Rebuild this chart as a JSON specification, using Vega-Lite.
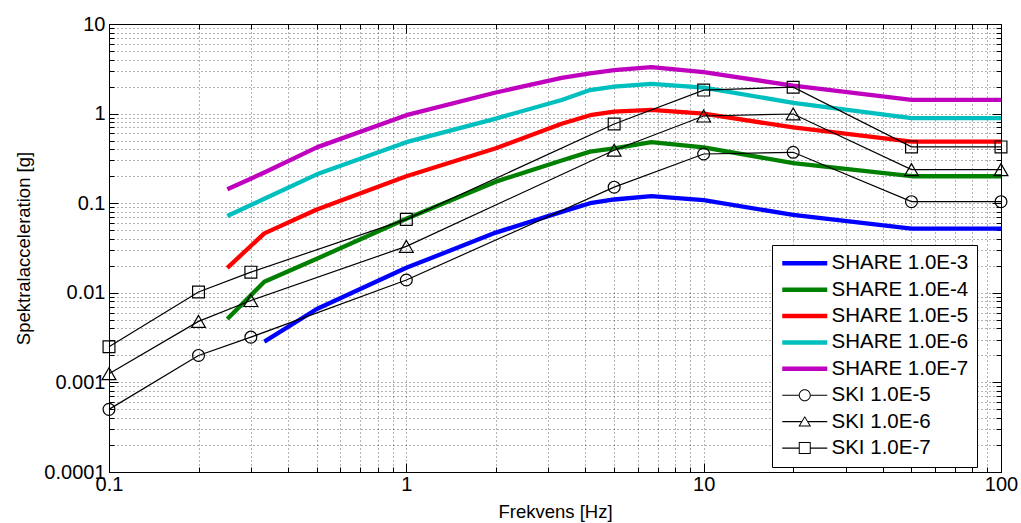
{
  "$schema": "https://vega.github.io/schema/vega-lite/v6.json",
  "width": 892,
  "height": 448,
  "autosize": "none",
  "padding": {"left": 109, "top": 24, "right": 20, "bottom": 51},
  "background": "white",
  "config": {
    "font": "Liberation Sans",
    "view": {"stroke": "black", "strokeWidth": 1},
    "axis": {
      "labelFont": "Liberation Sans",
      "labelFontSize": 20,
      "labelColor": "black",
      "tickColor": "black",
      "tickWidth": 1,
      "titleFont": "Liberation Sans",
      "titleFontSize": 18.5,
      "titleFontWeight": "normal",
      "titleColor": "black",
      "domain": false,
      "labelOverlap": false,
      "labelFlush": false,
      "labelBound": false,
      "gridColor": "black",
      "gridDash": [1, 3],
      "gridOpacity": 0.6,
      "gridWidth": 1
    }
  },
  "data": {
    "values": [
      {"s": "SHARE 1.0E-3", "f": 0.333, "a": 0.00285},
      {"s": "SHARE 1.0E-3", "f": 0.5, "a": 0.0066},
      {"s": "SHARE 1.0E-3", "f": 1, "a": 0.019},
      {"s": "SHARE 1.0E-3", "f": 2, "a": 0.047},
      {"s": "SHARE 1.0E-3", "f": 3.33, "a": 0.08},
      {"s": "SHARE 1.0E-3", "f": 4.15, "a": 0.1},
      {"s": "SHARE 1.0E-3", "f": 5, "a": 0.11},
      {"s": "SHARE 1.0E-3", "f": 6.67, "a": 0.12},
      {"s": "SHARE 1.0E-3", "f": 10, "a": 0.108},
      {"s": "SHARE 1.0E-3", "f": 20, "a": 0.074},
      {"s": "SHARE 1.0E-3", "f": 50, "a": 0.052},
      {"s": "SHARE 1.0E-3", "f": 100, "a": 0.052},

      {"s": "SHARE 1.0E-4", "f": 0.25, "a": 0.0051},
      {"s": "SHARE 1.0E-4", "f": 0.333, "a": 0.0133},
      {"s": "SHARE 1.0E-4", "f": 0.5, "a": 0.024},
      {"s": "SHARE 1.0E-4", "f": 1, "a": 0.067},
      {"s": "SHARE 1.0E-4", "f": 2, "a": 0.174},
      {"s": "SHARE 1.0E-4", "f": 3.33, "a": 0.3},
      {"s": "SHARE 1.0E-4", "f": 4.15, "a": 0.376},
      {"s": "SHARE 1.0E-4", "f": 5, "a": 0.41},
      {"s": "SHARE 1.0E-4", "f": 6.67, "a": 0.48},
      {"s": "SHARE 1.0E-4", "f": 10, "a": 0.42},
      {"s": "SHARE 1.0E-4", "f": 20, "a": 0.28},
      {"s": "SHARE 1.0E-4", "f": 50, "a": 0.2},
      {"s": "SHARE 1.0E-4", "f": 100, "a": 0.2},

      {"s": "SHARE 1.0E-5", "f": 0.25, "a": 0.019},
      {"s": "SHARE 1.0E-5", "f": 0.333, "a": 0.046},
      {"s": "SHARE 1.0E-5", "f": 0.5, "a": 0.085},
      {"s": "SHARE 1.0E-5", "f": 1, "a": 0.2},
      {"s": "SHARE 1.0E-5", "f": 2, "a": 0.41},
      {"s": "SHARE 1.0E-5", "f": 3.33, "a": 0.77},
      {"s": "SHARE 1.0E-5", "f": 4.15, "a": 0.96},
      {"s": "SHARE 1.0E-5", "f": 5, "a": 1.05},
      {"s": "SHARE 1.0E-5", "f": 6.67, "a": 1.1},
      {"s": "SHARE 1.0E-5", "f": 10, "a": 1.0},
      {"s": "SHARE 1.0E-5", "f": 20, "a": 0.7},
      {"s": "SHARE 1.0E-5", "f": 50, "a": 0.486},
      {"s": "SHARE 1.0E-5", "f": 100, "a": 0.486},

      {"s": "SHARE 1.0E-6", "f": 0.25, "a": 0.072},
      {"s": "SHARE 1.0E-6", "f": 0.333, "a": 0.112},
      {"s": "SHARE 1.0E-6", "f": 0.5, "a": 0.21},
      {"s": "SHARE 1.0E-6", "f": 1, "a": 0.48},
      {"s": "SHARE 1.0E-6", "f": 2, "a": 0.88},
      {"s": "SHARE 1.0E-6", "f": 3.33, "a": 1.42},
      {"s": "SHARE 1.0E-6", "f": 4.15, "a": 1.83},
      {"s": "SHARE 1.0E-6", "f": 5, "a": 2.0},
      {"s": "SHARE 1.0E-6", "f": 6.67, "a": 2.15},
      {"s": "SHARE 1.0E-6", "f": 10, "a": 1.95},
      {"s": "SHARE 1.0E-6", "f": 20, "a": 1.32},
      {"s": "SHARE 1.0E-6", "f": 50, "a": 0.89},
      {"s": "SHARE 1.0E-6", "f": 100, "a": 0.89},

      {"s": "SHARE 1.0E-7", "f": 0.25, "a": 0.143},
      {"s": "SHARE 1.0E-7", "f": 0.333, "a": 0.22},
      {"s": "SHARE 1.0E-7", "f": 0.5, "a": 0.42},
      {"s": "SHARE 1.0E-7", "f": 1, "a": 0.96},
      {"s": "SHARE 1.0E-7", "f": 2, "a": 1.72},
      {"s": "SHARE 1.0E-7", "f": 3.33, "a": 2.5},
      {"s": "SHARE 1.0E-7", "f": 4.15, "a": 2.82},
      {"s": "SHARE 1.0E-7", "f": 5, "a": 3.05},
      {"s": "SHARE 1.0E-7", "f": 6.67, "a": 3.3},
      {"s": "SHARE 1.0E-7", "f": 10, "a": 2.9},
      {"s": "SHARE 1.0E-7", "f": 20, "a": 2.05},
      {"s": "SHARE 1.0E-7", "f": 50, "a": 1.42},
      {"s": "SHARE 1.0E-7", "f": 100, "a": 1.42},

      {"s": "SKI 1.0E-5", "f": 0.1, "a": 0.0005},
      {"s": "SKI 1.0E-5", "f": 0.2, "a": 0.002},
      {"s": "SKI 1.0E-5", "f": 0.3, "a": 0.0032},
      {"s": "SKI 1.0E-5", "f": 1, "a": 0.0139},
      {"s": "SKI 1.0E-5", "f": 5, "a": 0.151},
      {"s": "SKI 1.0E-5", "f": 10, "a": 0.354},
      {"s": "SKI 1.0E-5", "f": 20, "a": 0.37},
      {"s": "SKI 1.0E-5", "f": 50, "a": 0.104},
      {"s": "SKI 1.0E-5", "f": 100, "a": 0.104},

      {"s": "SKI 1.0E-6", "f": 0.1, "a": 0.00125},
      {"s": "SKI 1.0E-6", "f": 0.2, "a": 0.0048},
      {"s": "SKI 1.0E-6", "f": 0.3, "a": 0.0082},
      {"s": "SKI 1.0E-6", "f": 1, "a": 0.033},
      {"s": "SKI 1.0E-6", "f": 5, "a": 0.39},
      {"s": "SKI 1.0E-6", "f": 10, "a": 0.94},
      {"s": "SKI 1.0E-6", "f": 20, "a": 0.99},
      {"s": "SKI 1.0E-6", "f": 50, "a": 0.237},
      {"s": "SKI 1.0E-6", "f": 100, "a": 0.237},

      {"s": "SKI 1.0E-7", "f": 0.1, "a": 0.0025},
      {"s": "SKI 1.0E-7", "f": 0.2, "a": 0.0102},
      {"s": "SKI 1.0E-7", "f": 0.3, "a": 0.017},
      {"s": "SKI 1.0E-7", "f": 1, "a": 0.066},
      {"s": "SKI 1.0E-7", "f": 5, "a": 0.765},
      {"s": "SKI 1.0E-7", "f": 10, "a": 1.83},
      {"s": "SKI 1.0E-7", "f": 20, "a": 1.97},
      {"s": "SKI 1.0E-7", "f": 50, "a": 0.425},
      {"s": "SKI 1.0E-7", "f": 100, "a": 0.425}
    ]
  },
  "resolve": {"axis": {"x": "independent", "y": "independent"}},
  "layer": [
    {
      "transform": [{"filter": "indexof(datum.s, 'SHARE') == 0"}],
      "mark": {"type": "line", "strokeWidth": 4.3, "strokeJoin": "round", "strokeCap": "butt"},
      "encoding": {
        "x": {
          "field": "f", "type": "quantitative",
          "scale": {"type": "log", "domain": [0.1, 100], "nice": false},
          "axis": {
            "orient": "bottom",
            "values": [0.1,0.2,0.3,0.4,0.5,0.6,0.7,0.8,0.9,1,2,3,4,5,6,7,8,9,10,20,30,40,50,60,70,80,90,100],
            "grid": true, "ticks": true, "tickSize": -5, "labelPadding": 7,
            "format": "~g",
            "labelExpr": "(datum.value == 0.1 || datum.value == 1 || datum.value == 10 || datum.value == 100) ? datum.label : ''",
            "title": "Frekvens [Hz]", "titlePadding": 8
          }
        },
        "y": {
          "field": "a", "type": "quantitative",
          "scale": {"type": "log", "domain": [0.0001, 10], "nice": false},
          "axis": {
            "orient": "left",
            "values": [0.0001,0.0002,0.0003,0.0004,0.0005,0.0006,0.0007,0.0008,0.0009,0.001,0.002,0.003,0.004,0.005,0.006,0.007,0.008,0.009,0.01,0.02,0.03,0.04,0.05,0.06,0.07,0.08,0.09,0.1,0.2,0.3,0.4,0.5,0.6,0.7,0.8,0.9,1,2,3,4,5,6,7,8,9,10],
            "grid": true, "ticks": true, "tickSize": -5, "labelPadding": 9,
            "format": "~g",
            "labelExpr": "(datum.value == 0.0001 || datum.value == 0.001 || datum.value == 0.01 || datum.value == 0.1 || datum.value == 1 || datum.value == 10) ? datum.label : ''",
            "title": "Spektralacceleration [g]", "titlePadding": 10
          }
        },
        "stroke": {
          "field": "s", "type": "nominal",
          "scale": {
            "domain": ["SHARE 1.0E-3","SHARE 1.0E-4","SHARE 1.0E-5","SHARE 1.0E-6","SHARE 1.0E-7"],
            "range": ["#0000ff","#008000","#ff0000","#00bfbf","#bf00bf"]
          },
          "legend": null
        }
      }
    },
    {
      "transform": [{"filter": "indexof(datum.s, 'SKI') == 0"}],
      "mark": {"type": "line", "strokeWidth": 1.2, "color": "black"},
      "encoding": {
        "x": {"field": "f", "type": "quantitative",
          "axis": {"orient": "bottom", "values": [0.1, 1, 10, 100], "grid": false, "tickSize": -9, "labels": false, "title": null}},
        "y": {"field": "a", "type": "quantitative",
          "axis": {"orient": "left", "values": [0.0001, 0.001, 0.01, 0.1, 1, 10], "grid": false, "tickSize": -9, "labels": false, "title": null}},
        "detail": {"field": "s", "type": "nominal"}
      }
    },
    {
      "transform": [{"filter": "datum.s == 'SKI 1.0E-5'"}],
      "mark": {"type": "point", "shape": "circle", "filled": false, "stroke": "black", "strokeWidth": 1.2, "size": 140, "opacity": 1},
      "encoding": {
        "x": {"field": "f", "type": "quantitative",
          "axis": {"orient": "top", "values": [0.1,0.2,0.3,0.4,0.5,0.6,0.7,0.8,0.9,1,2,3,4,5,6,7,8,9,10,20,30,40,50,60,70,80,90,100], "grid": false, "tickSize": -5, "labels": false, "title": null}},
        "y": {"field": "a", "type": "quantitative",
          "axis": {"orient": "right", "values": [0.0001,0.0002,0.0003,0.0004,0.0005,0.0006,0.0007,0.0008,0.0009,0.001,0.002,0.003,0.004,0.005,0.006,0.007,0.008,0.009,0.01,0.02,0.03,0.04,0.05,0.06,0.07,0.08,0.09,0.1,0.2,0.3,0.4,0.5,0.6,0.7,0.8,0.9,1,2,3,4,5,6,7,8,9,10], "grid": false, "tickSize": -5, "labels": false, "title": null}}
      }
    },
    {
      "transform": [{"filter": "datum.s == 'SKI 1.0E-6'"}],
      "mark": {"type": "point", "shape": "triangle-up", "filled": false, "stroke": "black", "strokeWidth": 1.2, "size": 190, "opacity": 1},
      "encoding": {
        "x": {"field": "f", "type": "quantitative",
          "axis": {"orient": "top", "values": [0.1, 1, 10, 100], "grid": false, "tickSize": -9, "labels": false, "title": null}},
        "y": {"field": "a", "type": "quantitative",
          "axis": {"orient": "right", "values": [0.0001, 0.001, 0.01, 0.1, 1, 10], "grid": false, "tickSize": -9, "labels": false, "title": null}}
      }
    },
    {
      "transform": [{"filter": "datum.s == 'SKI 1.0E-7'"}],
      "mark": {"type": "point", "shape": "square", "filled": false, "stroke": "black", "strokeWidth": 1.2, "size": 140, "opacity": 1},
      "encoding": {
        "x": {"field": "f", "type": "quantitative", "axis": null},
        "y": {"field": "a", "type": "quantitative", "axis": null}
      }
    },
    {
      "transform": [{"filter": "datum.f < 0"}],
      "mark": {"type": "point", "filled": true, "size": 256, "strokeWidth": 0, "opacity": 1},
      "encoding": {
        "x": {"field": "f", "type": "quantitative", "axis": null},
        "y": {"field": "a", "type": "quantitative", "axis": null},
        "color": {
          "field": "s", "type": "nominal",
          "scale": {
            "domain": ["SHARE 1.0E-3","SHARE 1.0E-4","SHARE 1.0E-5","SHARE 1.0E-6","SHARE 1.0E-7","SKI 1.0E-5","SKI 1.0E-6","SKI 1.0E-7"],
            "range": ["#0000ff","#008000","#ff0000","#00bfbf","#bf00bf","#000000","#000000","#000000"]
          },
          "legend": {
            "title": null, "orient": "none", "legendX": 663, "legendY": 221,
            "fillColor": "white", "strokeColor": "black", "padding": 8, "rowPadding": 5.4,
            "labelFont": "Liberation Sans", "labelFontSize": 20.5, "labelColor": "black", "labelOffset": 31, "labelLimit": 400,
            "symbolSize": 256, "symbolStrokeWidth": 0, "symbolOpacity": 1
          }
        },
        "shape": {
          "field": "s", "type": "nominal",
          "scale": {
            "domain": ["SHARE 1.0E-3","SHARE 1.0E-4","SHARE 1.0E-5","SHARE 1.0E-6","SHARE 1.0E-7","SKI 1.0E-5","SKI 1.0E-6","SKI 1.0E-7"],
            "range": [
              "M-1,-0.28H4.625V0.28H-1Z",
              "M-1,-0.28H4.625V0.28H-1Z",
              "M-1,-0.28H4.625V0.28H-1Z",
              "M-1,-0.28H4.625V0.28H-1Z",
              "M-1,-0.28H4.625V0.28H-1Z",
              "M-1,-0.075H1.0625V0.075H-1Z M2.5625,-0.075H4.625V0.075H2.5625Z M2.5625,0A0.75,0.75 0 1,1 1.0625,0A0.75,0.75 0 1,1 2.5625,0Z M2.4375,0A0.625,0.625 0 1,0 1.1875,0A0.625,0.625 0 1,0 2.4375,0Z",
              "M-1,-0.075H1.3825V0.075H-1Z M2.2425,-0.075H4.625V0.075H2.2425Z M1.8125,-0.7L2.6125,0.6L1.0125,0.6Z M1.8125,-0.5L1.2325,0.475L2.3925,0.475Z",
              "M-1,-0.075H1.0625V0.075H-1Z M2.5625,-0.075H4.625V0.075H2.5625Z M1.0625,-0.75H2.5625V0.75H1.0625Z M1.1875,-0.625V0.625H2.4375V-0.625Z"
            ]
          },
          "legend": {
            "title": null, "orient": "none", "legendX": 663, "legendY": 221,
            "fillColor": "white", "strokeColor": "black", "padding": 8, "rowPadding": 5.4,
            "labelFont": "Liberation Sans", "labelFontSize": 20.5, "labelColor": "black", "labelOffset": 31, "labelLimit": 400,
            "symbolSize": 256, "symbolStrokeWidth": 0, "symbolOpacity": 1
          }
        }
      }
    }
  ]
}
